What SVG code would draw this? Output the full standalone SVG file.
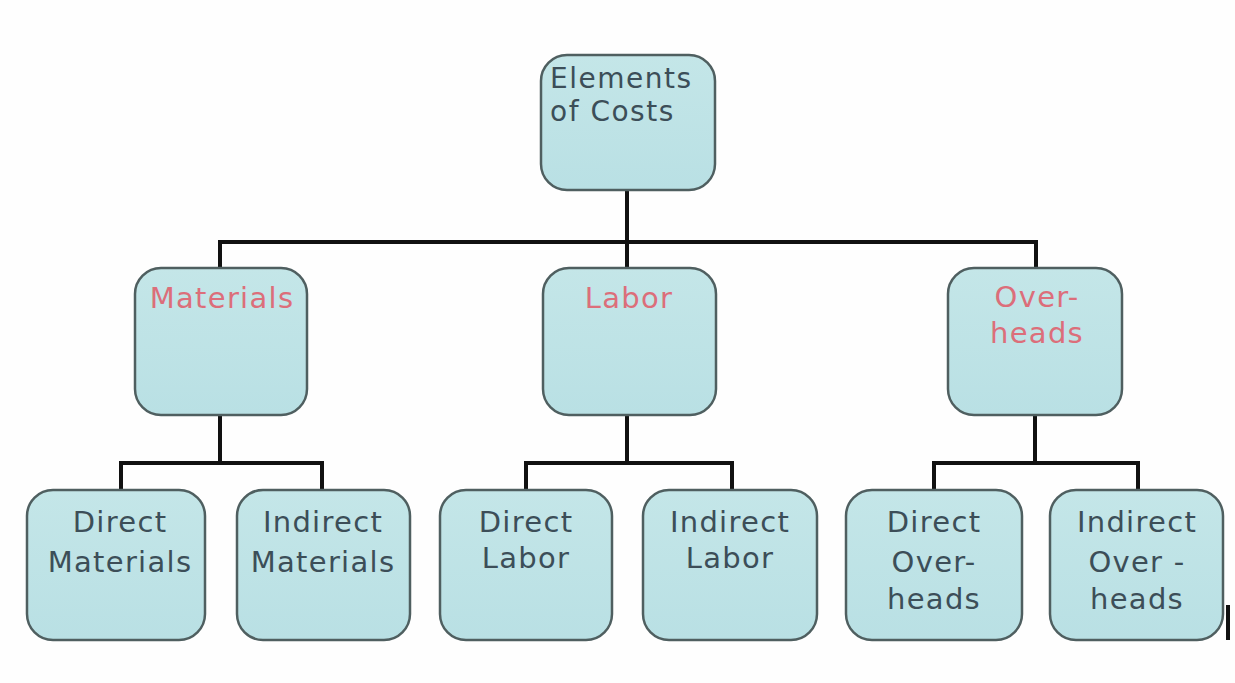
<svg xmlns="http://www.w3.org/2000/svg" width="1235" height="683" viewBox="0 0 1235 683">
<defs>
<linearGradient id="fill" x1="0" y1="0" x2="0" y2="1">
<stop offset="0" stop-color="#c4e6e8"/>
<stop offset="1" stop-color="#b9e0e4"/>
</linearGradient>
<style>
.box{fill:url(#fill);stroke:#4f5f60;stroke-width:2.5}
.t{font-family:"DejaVu Sans",Verdana,sans-serif;font-size:29px;letter-spacing:1.3px;fill:#3c4e58;text-anchor:middle}
.s{text-anchor:start;font-size:28px;letter-spacing:1.5px}
.r{fill:#dc6e7a}
.c{fill:none;stroke:#111;stroke-width:4}
</style>
</defs>
<rect width="1235" height="683" fill="#fefefe"/>
<g id="connectors">
<path class="c" d="M627 190V268M220 268V242H1036V268"/>
<path class="c" d="M220 415V463M121 490V463H322V490"/>
<path class="c" d="M627 415V463M526 490V463H732V490"/>
<path class="c" d="M1035 415V463M934 490V463H1138V490"/>
<path class="c" d="M1228 605V640" stroke-width="3"/>
</g>
<g id="n-elements"><rect class="box" x="541" y="55" width="174" height="135" rx="26"/><text class="t s" x="550" y="88">Elements</text><text class="t s" x="550" y="121">of Costs</text></g>
<g id="n-materials"><rect class="box" x="135" y="268" width="172" height="147" rx="26"/><text class="t r" x="222" y="308">Materials</text></g>
<g id="n-labor"><rect class="box" x="543" y="268" width="173" height="147" rx="26"/><text class="t r" x="629" y="308">Labor</text></g>
<g id="n-overheads"><rect class="box" x="948" y="268" width="174" height="147" rx="26"/><text class="t r" x="1037" y="307">Over-</text><text class="t r" x="1037" y="343">heads</text></g>
<g id="n-dmat"><rect class="box" x="27" y="490" width="178" height="150" rx="26"/><text class="t" x="120" y="532">Direct</text><text class="t" x="120" y="572">Materials</text></g>
<g id="n-imat"><rect class="box" x="237" y="490" width="173" height="150" rx="26"/><text class="t" x="323" y="532">Indirect</text><text class="t" x="323" y="572">Materials</text></g>
<g id="n-dlab"><rect class="box" x="440" y="490" width="172" height="150" rx="26"/><text class="t" x="526" y="532">Direct</text><text class="t" x="526" y="568">Labor</text></g>
<g id="n-ilab"><rect class="box" x="643" y="490" width="174" height="150" rx="26"/><text class="t" x="730" y="532">Indirect</text><text class="t" x="730" y="568">Labor</text></g>
<g id="n-doh"><rect class="box" x="846" y="490" width="176" height="150" rx="26"/><text class="t" x="934" y="532">Direct</text><text class="t" x="934" y="572">Over-</text><text class="t" x="934" y="609">heads</text></g>
<g id="n-ioh"><rect class="box" x="1050" y="490" width="173" height="150" rx="26"/><text class="t" x="1137" y="532">Indirect</text><text class="t" x="1137" y="572">Over -</text><text class="t" x="1137" y="609">heads</text></g>
</svg>
